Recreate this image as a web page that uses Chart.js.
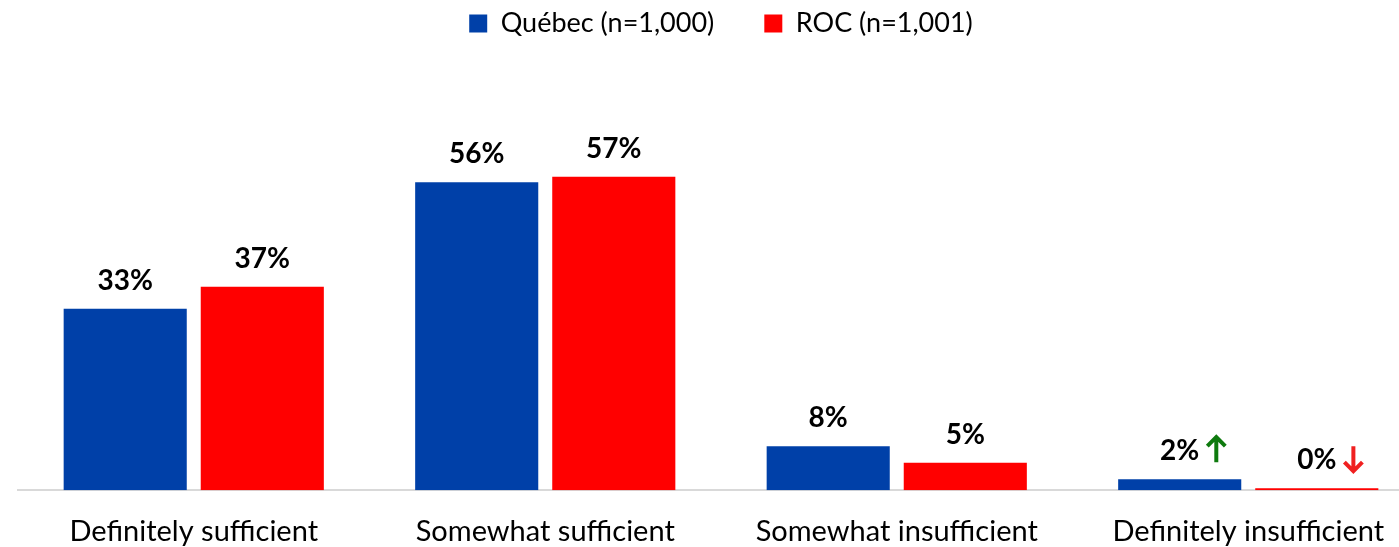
<!DOCTYPE html>
<html>
<head>
<meta charset="utf-8">
<script src="https://cdn.jsdelivr.net/npm/chart.js@4/dist/chart.umd.min.js"></script>
<style>
  html, body { margin: 0; padding: 0; background: #fff; overflow: hidden; }
  #wrap { width: 1424px; height: 547px; }
</style>
</head>
<body>
<div id="wrap"><canvas id="surveyChart"></canvas></div>
<script>
const categories = ['Definitely sufficient', 'Somewhat sufficient', 'Somewhat insufficient', 'Definitely insufficient'];
const quebecValues = [33, 56, 8, 2];
const rocValues = [37, 57, 5, 0];
// change markers shown beside the last pair of labels
const quebecArrows = [null, null, null, 'up'];
const rocArrows = [null, null, null, 'down'];

const BLUE = '#0040a8';
const RED = '#ff0000';

const valueLabels = {
  id: 'valueLabels',
  afterDatasetsDraw(chart) {
    const ctx = chart.ctx;
    const arrowSets = [quebecArrows, rocArrows];
    ctx.save();
    ctx.font = 'bold 28px Lato';
    ctx.textAlign = 'center';
    ctx.textBaseline = 'alphabetic';
    chart.data.datasets.forEach((ds, i) => {
      chart.getDatasetMeta(i).data.forEach((bar, j) => {
        const txt = ds.data[j] + '%';
        const y = bar.y - 19;
        ctx.fillStyle = '#000';
        ctx.fillText(txt, bar.x, y);
        const dir = arrowSets[i][j];
        if (dir) {
          const w = ctx.measureText(txt).width;
          const ax = bar.x + w / 2 + 17;
          const top = y - 23, bot = y + 2;
          ctx.strokeStyle = dir === 'up' ? '#0e7a0e' : '#f02020';
          ctx.lineWidth = 4;
          ctx.beginPath();
          ctx.moveTo(ax, top); ctx.lineTo(ax, bot);
          if (dir === 'up') {
            ctx.moveTo(ax - 9, top + 9); ctx.lineTo(ax, top); ctx.lineTo(ax + 9, top + 9);
          } else {
            ctx.moveTo(ax - 9, bot - 9); ctx.lineTo(ax, bot); ctx.lineTo(ax + 9, bot - 9);
          }
          ctx.stroke();
        }
      });
    });
    ctx.restore();
  }
};

new Chart(document.getElementById('surveyChart').getContext('2d'), {
  type: 'bar',
  data: {
    labels: categories,
    datasets: [
      { label: 'Québec (n=1,000)', data: quebecValues, backgroundColor: BLUE, minBarLength: 2 },
      { label: 'ROC (n=1,001)', data: rocValues, backgroundColor: RED, minBarLength: 2 }
    ]
  },
  options: {
    responsive: true,
    maintainAspectRatio: false,
    animation: false,
    categoryPercentage: 0.78,
    barPercentage: 0.898,
    layout: { padding: { left: 18, right: 0, top: -40, bottom: -18 } },
    plugins: {
      legend: {
        position: 'top',
        labels: {
          color: '#000',
          boxWidth: 18,
          boxHeight: 18,
          padding: 50,
          font: { family: 'Lato', size: 27 }
        }
      },
      tooltip: { enabled: false }
    },
    scales: {
      x: {
        grid: { display: false },
        border: { display: true, color: '#d9d9d9', width: 2 },
        ticks: { color: '#000', padding: 16, font: { family: 'Lato', size: 29 } }
      },
      y: {
        display: false,
        min: 0,
        max: 80.6
      }
    }
  },
  plugins: [valueLabels]
});
</script>
</body>
</html>
